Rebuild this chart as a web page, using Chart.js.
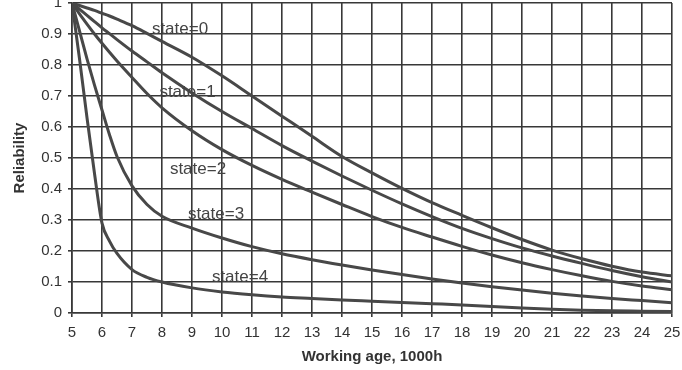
<!DOCTYPE html>
<html>
<head>
<meta charset="utf-8">
<script src="https://cdn.jsdelivr.net/npm/chart.js@4"></script>
<style>
  html, body { margin: 0; padding: 0; background: #fff; }
  #box { width: 682px; height: 370px; }
</style>
</head>
<body>
<div id="box"><canvas id="chart"></canvas></div>
<script>
/* --------------- Data ------------------------------------------ */
const ages = [5, 5.25, 5.5, 5.75, 6, 6.25, 6.5, 7, 7.5, 8, 9, 10, 11, 12, 13, 14, 15, 16, 17, 18, 19, 20, 21, 22, 23, 24, 25];
const state0 = [1, 0.992, 0.984, 0.976, 0.967, 0.958, 0.948, 0.927, 0.902, 0.876, 0.825, 0.765, 0.7, 0.635, 0.57, 0.505, 0.452, 0.402, 0.356, 0.315, 0.275, 0.237, 0.203, 0.175, 0.151, 0.132, 0.12];
const state1 = [1, 0.98, 0.96, 0.94, 0.92, 0.901, 0.882, 0.845, 0.81, 0.775, 0.71, 0.65, 0.595, 0.54, 0.49, 0.442, 0.396, 0.352, 0.311, 0.273, 0.24, 0.21, 0.184, 0.16, 0.137, 0.117, 0.1];
const state2 = [1, 0.965, 0.932, 0.9, 0.87, 0.841, 0.813, 0.76, 0.708, 0.662, 0.588, 0.527, 0.476, 0.431, 0.39, 0.35, 0.311, 0.276, 0.245, 0.215, 0.187, 0.162, 0.14, 0.12, 0.102, 0.087, 0.075];
const state3 = [1, 0.91, 0.82, 0.735, 0.655, 0.575, 0.505, 0.41, 0.35, 0.312, 0.274, 0.242, 0.214, 0.191, 0.172, 0.155, 0.139, 0.124, 0.11, 0.097, 0.085, 0.074, 0.064, 0.055, 0.047, 0.04, 0.033];
const state4 = [1, 0.82, 0.63, 0.45, 0.29, 0.232, 0.192, 0.14, 0.115, 0.1, 0.081, 0.068, 0.059, 0.052, 0.047, 0.042, 0.038, 0.034, 0.03, 0.026, 0.021, 0.016, 0.012, 0.009, 0.007, 0.006, 0.005];
const states = [state0, state1, state2, state3, state4];

/* --------------- Curve labels (text + where it sits, in data units) --------------------- */
const labelText = ["state=0", "state=1", "state=2", "state=3", "state=4"];
const labelAge = [8.6, 8.85, 9.2, 9.8, 10.6];
const labelRel = [0.915, 0.713, 0.465, 0.317, 0.116];

const INK = "#333";
const FONT = "'Liberation Sans', Arial, sans-serif";

const curveLabels = {
  id: "curveLabels",
  afterDatasetsDraw(chart) {
    const { ctx, scales: { x, y } } = chart;
    ctx.save();
    ctx.font = "17px " + FONT;
    ctx.fillStyle = "#444";
    ctx.textAlign = "center";
    ctx.textBaseline = "middle";
    labelText.forEach((t, i) => {
      ctx.fillText(t, x.getPixelForValue(labelAge[i]), y.getPixelForValue(labelRel[i]));
    });
    ctx.restore();
  }
};

new Chart(document.getElementById("chart"), {
  type: "line",
  plugins: [curveLabels],
  data: {
    datasets: states.map((s) => ({
      data: s.map((v, i) => ({ x: ages[i], y: v })),
      borderColor: "#484848",
      borderWidth: 3,
      pointRadius: 0,
      cubicInterpolationMode: "monotone",
      fill: false,
    })),
  },
  options: {
    responsive: true,
    maintainAspectRatio: false,
    animation: false,
    layout: { padding: { top: 3, right: 10, left: 0, bottom: 0 } },
    plugins: { legend: { display: false }, tooltip: { enabled: false } },
    scales: {
      x: {
        type: "linear",
        min: 5,
        max: 25,
        ticks: {
          stepSize: 1,
          padding: 7,
          color: INK,
          font: { family: FONT, size: 15 },
        },
        grid: { color: "#383838", lineWidth: 1.6, tickLength: 4 },
        border: { color: "#383838", width: 1.6 },
        title: {
          display: true,
          text: "Working age, 1000h",
          color: INK,
          padding: { top: 0, bottom: 4 },
          font: { family: FONT, size: 15, weight: "bold" },
        },
        afterFit: (scale) => {
          scale.height = 57;
          scale.paddingLeft = 0;
          scale.paddingRight = 0;
        },
      },
      y: {
        min: 0,
        max: 1,
        ticks: {
          stepSize: 0.1,
          padding: 6,
          color: INK,
          font: { family: FONT, size: 15 },
          callback: (v) => String(+v.toFixed(1)),
        },
        grid: { color: "#383838", lineWidth: 1.6, tickLength: 4 },
        border: { color: "#383838", width: 1.6 },
        title: {
          display: true,
          text: "Reliability",
          color: INK,
          padding: { top: 11, bottom: 0 },
          font: { family: FONT, size: 15, weight: "bold" },
        },
        afterFit: (scale) => {
          scale.width = 72;
          scale.paddingTop = 0;
          scale.paddingBottom = 0;
        },
      },
    },
  },
});
</script>
</body>
</html>
